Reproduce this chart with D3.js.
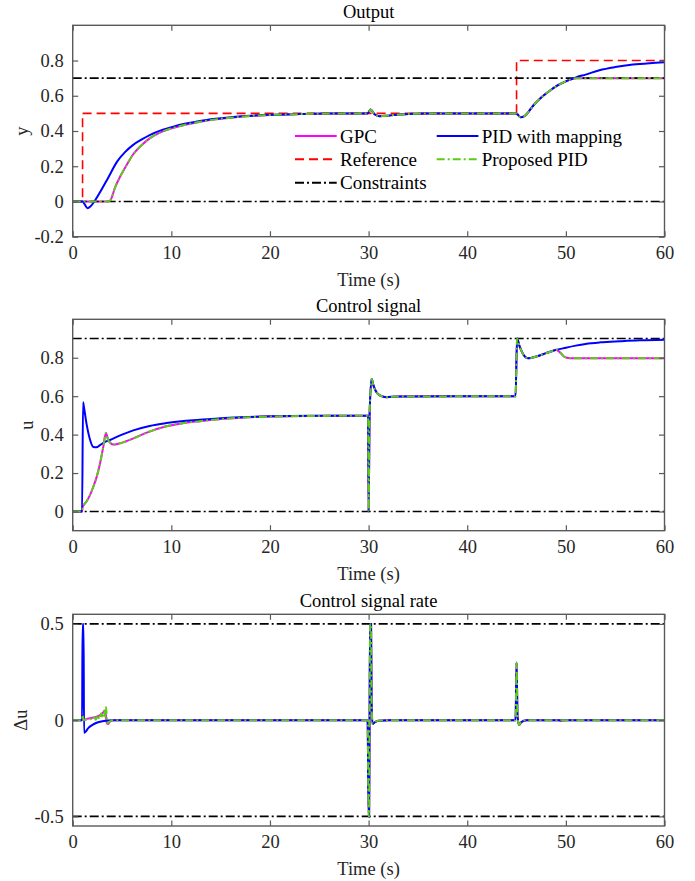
<!DOCTYPE html>
<html>
<head>
<meta charset="utf-8">
<script src="https://cdn.jsdelivr.net/npm/d3@7"></script>
<style>
  html, body { margin: 0; padding: 0; background: #fff; }
  svg text { font-family: "Liberation Serif", "Times New Roman", serif; }
</style>
</head>
<body>
<svg id="chart" width="695" height="881"></svg>
<script>
// ---------------- DATA ----------------
const xTicks = [0, 10, 20, 30, 40, 50, 60];
const outYTicks = [-0.2, 0, 0.2, 0.4, 0.6, 0.8];
const ctrlYTicks = [0, 0.2, 0.4, 0.6, 0.8];
const rateYTicks = [-0.5, 0, 0.5];

const legendLabels = ["GPC", "Reference", "Constraints", "PID with mapping", "Proposed PID"];
const panelTitles = ["Output", "Control signal", "Control signal rate"];
const yLabels = ["y", "u", "\u0394u"];
const xLabel = "Time (s)";

// Panel 1: Output
const outRefTimes = [0, 1, 45, 60];
const outRefValues = [0, 0.5, 0.8, 0.8];
const outConstraints = [0, 0.7];
const outGPC = [[0,0],[3.6,0],[3.8,0.005],[4.3,0.08],[4.8,0.14],[5.5,0.21],[6.1,0.265],[7,0.32],[7.8,0.358],[9,0.395],[10.2,0.418],[11.5,0.437],[12.9,0.452],[14.5,0.466],[16.3,0.477],[18,0.485],[20,0.491],[23,0.496],[26,0.499],[29.9,0.5],[30.2,0.522],[30.6,0.495],[31.1,0.484],[32,0.487],[33,0.493],[34.5,0.498],[36,0.5],[44.9,0.5],[45.1,0.494],[45.4,0.478],[45.8,0.484],[46.7,0.545],[47.5,0.59],[48.4,0.63],[49.2,0.66],[50,0.682],[50.6,0.695],[51.1,0.7],[60,0.7]];
const outProposed = [[0,0],[3.6,0],[3.8,0.005],[4.3,0.08],[4.8,0.14],[5.5,0.21],[6.1,0.265],[7,0.32],[7.8,0.358],[9,0.395],[10.2,0.418],[11.5,0.437],[12.9,0.452],[14.5,0.466],[16.3,0.477],[18,0.485],[20,0.491],[23,0.496],[26,0.499],[29.9,0.5],[30.2,0.522],[30.6,0.495],[31.1,0.484],[32,0.487],[33,0.493],[34.5,0.498],[36,0.5],[44.9,0.5],[45.1,0.494],[45.4,0.478],[45.8,0.484],[46.7,0.545],[47.5,0.59],[48.4,0.63],[49.2,0.66],[50,0.682],[50.6,0.695],[51.1,0.7],[60,0.7]];
const outPIDMap = [[0,0],[1,0],[1.2,-0.015],[1.5,-0.038],[1.8,-0.028],[2.2,0],[2.8,0.055],[3.6,0.135],[4.5,0.226],[5.3,0.28],[6.1,0.32],[7,0.352],[7.8,0.377],[9,0.405],[10.2,0.425],[11.5,0.442],[12.9,0.457],[14.5,0.469],[16.3,0.479],[18,0.486],[20,0.492],[23,0.496],[26,0.499],[29.9,0.5],[30.2,0.522],[30.6,0.495],[31.1,0.484],[32,0.487],[33,0.493],[34.5,0.498],[36,0.5],[44.9,0.5],[45.1,0.494],[45.4,0.478],[45.8,0.484],[46.7,0.545],[47.5,0.59],[48.4,0.63],[49.2,0.66],[50,0.682],[50.6,0.695],[51.1,0.706],[52,0.72],[53.4,0.745],[55,0.763],[56.8,0.777],[58.5,0.785],[60,0.79]];

// Panel 2: Control signal
const ctrlConstraints = [0, 0.9];
const ctrlGPC = [[0,0],[0.95,0],[1.0,0.022],[1.42,0.053],[1.75,0.085],[2.1,0.13],[2.43,0.18],[2.77,0.25],[3.1,0.336],[3.37,0.408],[3.6,0.372],[3.85,0.355],[4.1,0.348],[4.6,0.352],[5.3,0.363],[6.1,0.379],[7.5,0.41],[9.5,0.443],[11,0.458],[12.9,0.47],[15,0.481],[17,0.488],[20,0.494],[24,0.497],[29.95,0.498],[30.0,0.0],[30.1,0.5],[30.3,0.69],[30.5,0.655],[30.8,0.62],[31.2,0.603],[31.8,0.595],[33,0.598],[44.9,0.6],[45.05,0.9],[45.3,0.86],[45.6,0.825],[46.2,0.797],[47,0.806],[48,0.824],[48.7,0.836],[49,0.842],[49.4,0.828],[49.9,0.803],[50.5,0.797],[60,0.797]];
const ctrlProposed = [[0,0],[0.95,0],[1.0,0.022],[1.42,0.053],[1.75,0.085],[2.1,0.13],[2.43,0.18],[2.77,0.25],[3.1,0.336],[3.37,0.408],[3.6,0.372],[3.85,0.355],[4.1,0.348],[4.6,0.352],[5.3,0.363],[6.1,0.379],[7.5,0.41],[9.5,0.443],[11,0.458],[12.9,0.47],[15,0.481],[17,0.488],[20,0.494],[24,0.497],[29.95,0.498],[30.0,0.0],[30.1,0.5],[30.3,0.69],[30.5,0.655],[30.8,0.62],[31.2,0.603],[31.8,0.595],[33,0.598],[44.9,0.6],[45.05,0.9],[45.3,0.86],[45.6,0.825],[46.2,0.797],[47,0.806],[48,0.824],[48.7,0.836],[49,0.842],[49.4,0.828],[49.9,0.803],[50.5,0.797],[60,0.797]];
const ctrlPIDMap = [[0,0],[0.95,0],[1.05,0.568],[1.15,0.54],[1.4,0.457],[1.75,0.375],[2.1,0.335],[2.4,0.334],[2.77,0.345],[3.27,0.362],[3.78,0.372],[5,0.4],[6.14,0.422],[7.8,0.445],[9.5,0.46],[11,0.47],[12.9,0.477],[15,0.485],[17,0.49],[20,0.495],[24,0.498],[29.95,0.498],[30.0,0.0],[30.1,0.5],[30.3,0.69],[30.5,0.655],[30.8,0.62],[31.2,0.603],[31.8,0.595],[33,0.598],[44.9,0.6],[45.05,0.9],[45.3,0.86],[45.6,0.825],[46.2,0.797],[47,0.806],[48,0.824],[48.7,0.836],[50,0.852],[51,0.863],[52,0.872],[53.5,0.88],[55.5,0.886],[57.5,0.891],[60,0.894]];

// Panel 3: Control signal rate
const rateConstraints = [-0.5, 0.5];
const rateGPC = [[0,0],[0.95,0],[1.0,0.025],[1.1,0.0],[1.5,0.008],[2.0,0.012],[2.5,0.02],[3.0,0.035],[3.3,0.05],[3.45,-0.015],[3.6,-0.02],[3.8,-0.006],[4.2,0],[29.9,0],[30.0,-0.5],[30.05,-0.5],[30.1,0.0],[30.15,0.5],[30.25,0.5],[30.3,0.1],[30.4,-0.02],[30.6,-0.012],[31,-0.003],[32,0],[44.9,0],[45.0,0.3],[45.1,0.02],[45.25,-0.024],[45.5,-0.01],[46,0],[49.2,0],[49.5,-0.004],[50,0],[60,0]];
const rateProposed = [[0,0],[0.95,0],[1.0,0.028],[1.1,0.0],[1.3,0.004],[1.6,0.0],[1.8,0.006],[2.0,0.0],[2.2,0.015],[2.35,0.002],[2.55,0.025],[2.7,0.005],[2.9,0.036],[3.05,0.01],[3.2,0.05],[3.3,0.018],[3.38,0.068],[3.5,-0.016],[3.7,-0.01],[4.0,0],[29.9,0],[30.0,-0.5],[30.05,-0.5],[30.1,0.0],[30.15,0.5],[30.25,0.5],[30.3,0.1],[30.4,-0.02],[30.6,-0.012],[31,-0.003],[32,0],[44.9,0],[45.0,0.3],[45.1,0.02],[45.25,-0.024],[45.5,-0.01],[46,0],[60,0]];
const ratePIDMap = [[0,0],[0.95,0],[1.0,0.5],[1.1,0.5],[1.15,-0.065],[1.3,-0.06],[1.6,-0.04],[2.0,-0.025],[2.5,-0.012],[3,-0.006],[4,0],[29.9,0],[30.0,-0.5],[30.05,-0.5],[30.1,0.0],[30.15,0.5],[30.25,0.5],[30.3,0.1],[30.4,-0.02],[30.6,-0.012],[31,-0.003],[32,0],[44.9,0],[45.0,0.3],[45.1,0.02],[45.25,-0.024],[45.5,-0.01],[46,0],[60,0]];

// ---------------- STYLE ----------------
const COLORS = { gpc: "#ff00ff", ref: "#ff0000", cons: "#000000", pid: "#0000ff", prop: "#5ccc14" };
const FONT = 18.5;

const svg = d3.select("#chart");
svg.append("rect").attr("width", 695).attr("height", 881).attr("fill", "#fff");

const X0 = 72.7, X1 = 664.5;
const panels = [
  { top: 25.3, bottom: 236.7, domain: [-0.2, 1.0], ticks: outYTicks, ylabelX: 27.5,
    series: { gpc: outGPC, pid: outPIDMap, prop: outProposed }, cons: outConstraints, ref: true },
  { top: 319.3, bottom: 530.7, domain: [-0.1, 1.0], ticks: ctrlYTicks, ylabelX: 33,
    series: { gpc: ctrlGPC, pid: ctrlPIDMap, prop: ctrlProposed }, cons: ctrlConstraints },
  { top: 614.3, bottom: 826, domain: [-0.55, 0.55], ticks: rateYTicks, ylabelX: 27,
    series: { gpc: rateGPC, pid: ratePIDMap, prop: rateProposed }, cons: rateConstraints }
];

const x = d3.scaleLinear().domain([0, 60]).range([X0, X1]);
const AXIS_COLOR = "#5a5a5a";
const TEXT_COLOR = "#262626";

panels.forEach((p, i) => {
  const y = d3.scaleLinear().domain(p.domain).range([p.bottom, p.top]);
  const g = svg.append("g");
  const clipId = "clip" + i;
  svg.append("clipPath").attr("id", clipId).append("rect")
    .attr("x", X0).attr("y", p.top).attr("width", X1 - X0).attr("height", p.bottom - p.top);

  const plot = g.append("g").attr("clip-path", `url(#${clipId})`);
  const line = d3.line().x(d => x(d[0])).y(d => y(d[1])).curve(d3.curveMonotoneX);

  // GPC
  plot.append("path").datum(p.series.gpc).attr("d", line)
    .attr("fill", "none").attr("stroke", COLORS.gpc).attr("stroke-width", 2);
  // Reference
  if (p.ref) {
    const refData = outRefTimes.map((t, k) => [t, outRefValues[k]]);
    const stepLine = d3.line().x(d => x(d[0])).y(d => y(d[1])).curve(d3.curveStepAfter);
    plot.append("path").datum(refData).attr("d", stepLine)
      .attr("fill", "none").attr("stroke", COLORS.ref).attr("stroke-width", 1.6)
      .attr("stroke-dasharray", "9,5");
  }
  // Constraints
  p.cons.forEach(c => {
    plot.append("path").datum([[0, c], [60, c]]).attr("d", d3.line().x(d => x(d[0])).y(d => y(d[1])))
      .attr("fill", "none").attr("stroke", COLORS.cons).attr("stroke-width", 1.6)
      .attr("stroke-dasharray", "9,3,2,3");
  });
  // PID with mapping
  plot.append("path").datum(p.series.pid).attr("d", line)
    .attr("fill", "none").attr("stroke", COLORS.pid).attr("stroke-width", 2);
  // Proposed PID
  plot.append("path").datum(p.series.prop).attr("d", line)
    .attr("fill", "none").attr("stroke", COLORS.prop).attr("stroke-width", 2)
    .attr("stroke-dasharray", "8,3,2,3");

  // Axes (box with inward ticks, mirrored)
  const fmt = d => String(d);
  const axB = g.append("g").attr("transform", `translate(0,${p.bottom})`)
    .call(d3.axisBottom(x).tickValues(xTicks).tickFormat(fmt).tickSizeInner(-5.5).tickSizeOuter(0).tickPadding(10));
  const axT = g.append("g").attr("transform", `translate(0,${p.top})`)
    .call(d3.axisTop(x).tickValues(xTicks).tickFormat("").tickSizeInner(-5.5).tickSizeOuter(0));
  const axL = g.append("g").attr("transform", `translate(${X0},0)`)
    .call(d3.axisLeft(y).tickValues(p.ticks).tickFormat(fmt).tickSizeInner(-5.5).tickSizeOuter(0).tickPadding(9));
  const axR = g.append("g").attr("transform", `translate(${X1},0)`)
    .call(d3.axisRight(y).tickValues(p.ticks).tickFormat("").tickSizeInner(-5.5).tickSizeOuter(0));
  [axB, axT, axL, axR].forEach(a => {
    a.select(".domain").remove();
    a.selectAll(".tick line").attr("stroke", AXIS_COLOR).attr("stroke-width", 1.2);
    a.selectAll(".tick text").attr("fill", TEXT_COLOR)
      .style("font-family", '"Liberation Serif", "Times New Roman", serif').style("font-size", FONT + "px");
  });
  axB.selectAll(".tick text").attr("dy", "0.71em").attr("y", 9);
  g.append("rect").attr("x", X0).attr("y", p.top).attr("width", X1 - X0).attr("height", p.bottom - p.top)
    .attr("fill", "none").attr("stroke", AXIS_COLOR).attr("stroke-width", 1.4);

  // Title
  g.append("text").attr("x", (X0 + X1) / 2).attr("y", p.top - 7).attr("text-anchor", "middle")
    .attr("font-size", FONT).attr("fill", "#000").text(panelTitles[i]);
  // X label
  g.append("text").attr("x", (X0 + X1) / 2).attr("y", p.bottom + 49).attr("text-anchor", "middle")
    .attr("font-size", FONT).attr("fill", TEXT_COLOR).text(xLabel);
  // Y label
  g.append("text").attr("transform", `translate(${p.ylabelX},${(p.top + p.bottom) / 2}) rotate(-90)`)
    .attr("text-anchor", "middle").attr("font-size", FONT).attr("fill", TEXT_COLOR).text(yLabels[i]);
});

// Legend (top panel)
const legendItems = [
  { label: legendLabels[0], color: COLORS.gpc, dash: null, col: 0, row: 0 },
  { label: legendLabels[1], color: COLORS.ref, dash: "9,5", col: 0, row: 1 },
  { label: legendLabels[2], color: COLORS.cons, dash: "9,3,2,3", col: 0, row: 2 },
  { label: legendLabels[3], color: COLORS.pid, dash: null, col: 1, row: 0 },
  { label: legendLabels[4], color: COLORS.prop, dash: "8,3,2,3", col: 1, row: 1 }
];
const legCols = [295, 436.7];
const legRows = [136, 159.3, 182.7];
const lg = svg.append("g");
legendItems.forEach(it => {
  const lx = legCols[it.col], ly = legRows[it.row];
  const ln = lg.append("line").attr("x1", lx).attr("x2", lx + 41.7).attr("y1", ly).attr("y2", ly)
    .attr("stroke", it.color).attr("stroke-width", 2);
  if (it.dash) ln.attr("stroke-dasharray", it.dash);
  lg.append("text").attr("x", lx + 45).attr("y", ly).attr("dy", "0.35em")
    .attr("font-size", 19).attr("fill", "#000").text(it.label);
});
</script>
</body>
</html>
